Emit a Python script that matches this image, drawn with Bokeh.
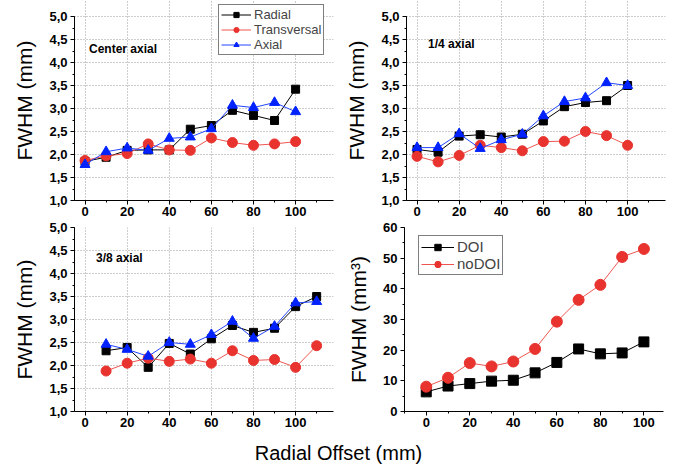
from bokeh.plotting import figure
from bokeh.layouts import column, row
from bokeh.models import Label, SingleIntervalTicker, CustomJSTickFormatter, Range1d, Legend, LegendItem
from bokeh.embed import file_html
from bokeh.resources import INLINE

FONT = "Liberation Sans"

# ---------------- data ----------------
x_a = [0, 10, 20, 30, 40, 50, 60, 70, 80, 90, 100]
x_b = [10, 20, 30, 40, 50, 60, 70, 80, 90, 100, 110]

center_radial = [1.85, 1.94, 2.09, 2.10, 2.10, 2.55, 2.63, 2.96, 2.85, 2.74, 3.42]
center_transversal = [1.87, 1.97, 2.02, 2.23, 2.10, 2.09, 2.36, 2.26, 2.20, 2.23, 2.28]
center_axial = [1.78, 2.06, 2.14, 2.09, 2.35, 2.38, 2.56, 3.07, 3.02, 3.13, 2.93]

q14_radial = [2.11, 2.05, 2.40, 2.43, 2.38, 2.44, 2.73, 3.04, 3.13, 3.17, 3.50]
q14_transversal = [1.96, 1.84, 1.98, 2.20, 2.15, 2.08, 2.28, 2.29, 2.50, 2.41, 2.20]
q14_axial = [2.15, 2.15, 2.45, 2.13, 2.32, 2.44, 2.84, 3.15, 3.23, 3.56, 3.50]

q38_radial = [2.32, 2.39, 1.96, 2.48, 2.25, 2.58, 2.87, 2.72, 2.81, 3.28, 3.50]
q38_transversal = [1.88, 2.05, 2.16, 2.09, 2.14, 2.05, 2.32, 2.11, 2.13, 1.96, 2.43]
q38_axial = [2.46, 2.35, 2.20, 2.50, 2.46, 2.67, 2.96, 2.59, 2.85, 3.36, 3.39]

vol_doi = [6.4, 8.3, 9.1, 9.9, 10.2, 12.6, 16.0, 20.4, 18.8, 19.1, 22.7]
vol_nodoi = [8.1, 11.0, 15.8, 14.7, 16.3, 20.4, 29.3, 36.4, 41.3, 50.4, 53.0]

BLACK = "#000000"
RED = "#E8332E"
RED_LINE = "#EE5550"
BLUE = "#0022FF"
BLUE_LINE = "#2244FF"


def make_panel(width, height, left, right, top, bottom, xr, yr, xint, yint, ylabel, comma, ybounds=None):
    p = figure(width=width, height=height, x_range=Range1d(*xr), y_range=Range1d(*yr),
               output_backend="svg", toolbar_location=None, title=None,
               min_border_left=left, min_border_right=right,
               min_border_top=top, min_border_bottom=bottom)
    p.outline_line_color = None
    p.background_fill_color = "white"
    p.border_fill_color = "white"
    p.xaxis.ticker = SingleIntervalTicker(interval=xint, num_minor_ticks=2)
    p.yaxis.ticker = SingleIntervalTicker(interval=yint, num_minor_ticks=2)
    if ybounds is not None:
        p.yaxis.bounds = ybounds
    if comma:
        p.yaxis.formatter = CustomJSTickFormatter(code="return tick.toFixed(1).replace('.', ',');")
    for ax in (p.xaxis, p.yaxis):
        ax.axis_line_color = "#000000"
        ax.axis_line_width = 1
        ax.major_tick_out = 4
        ax.major_tick_in = 0
        ax.minor_tick_out = 2
        ax.minor_tick_in = 0
        ax.major_tick_line_color = "#000000"
        ax.minor_tick_line_color = "#000000"
        ax.major_label_text_font = FONT
        ax.major_label_text_font_size = "13px"
        ax.major_label_text_font_style = "bold"
        ax.major_label_text_color = "#000000"
    p.xaxis.major_label_standoff = 2
    p.yaxis.major_label_standoff = 3
    p.yaxis.axis_label = ylabel
    p.yaxis.axis_label_text_font = FONT
    p.yaxis.axis_label_text_font_size = "21px"
    p.yaxis.axis_label_text_font_style = "normal"
    p.yaxis.axis_label_text_color = "#000000"
    p.yaxis.axis_label_standoff = 10
    p.xgrid.grid_line_color = "#9a9a9a"
    p.ygrid.grid_line_color = "#9a9a9a"
    p.xgrid.grid_line_dash = "1 2"
    p.ygrid.grid_line_dash = "1 2"
    p.xgrid.grid_line_width = 1
    p.ygrid.grid_line_width = 1
    return p


def three_series(p, xs, rad, tra, axi):
    r1 = p.line(xs, rad, line_color=BLACK, line_width=1)
    r2 = p.scatter(xs, rad, marker="square", size=8, fill_color=BLACK, line_color=BLACK)
    r3 = p.line(xs, tra, line_color=RED_LINE, line_width=1)
    r4 = p.scatter(xs, tra, marker="circle", size=10, fill_color=RED, line_color=RED)
    r5 = p.line(xs, axi, line_color=BLUE_LINE, line_width=1)
    r6 = p.scatter(xs, axi, marker="triangle", size=10, fill_color=BLUE, line_color=BLUE)
    return [("Radial", [r1, r2]), ("Transversal", [r3, r4]), ("Axial", [r5, r6])]


def panel_text(p, x, y, txt):
    p.add_layout(Label(x=x, y=y, text=txt, text_font=FONT, text_font_size="12px",
                       text_font_style="bold", text_color="#000000", text_baseline="middle"))


# Top row: frames reach the canvas top so the legend is not clipped; axes are bounded at 5,0
p1 = make_panel(338, 220, 74, 5, 0, 20, (-5, 118), (1.0, 5.348), 20, 0.5, "FWHM (mm)", True,
                ybounds=(1.0, 5.0))
items = three_series(p1, x_a, center_radial, center_transversal, center_axial)
panel_text(p1, 1.9, 4.30, "Center axial")
leg = Legend(items=[LegendItem(label=l, renderers=r) for l, r in items],
             location=(144, 145), label_text_font=FONT, label_text_font_size="13px",
             label_text_line_height=1.0,
             glyph_width=30, glyph_height=13, label_height=13, spacing=0, padding=2,
             label_standoff=3, border_line_color="#000000", border_line_width=1,
             background_fill_alpha=1.0, margin=0)
p1.add_layout(leg)

p2 = make_panel(339, 220, 68, 12, 0, 20, (-5, 118), (1.0, 5.348), 20, 0.5, "FWHM (mm)", True,
                ybounds=(1.0, 5.0))
three_series(p2, x_a, q14_radial, q14_transversal, q14_axial)
panel_text(p2, 5.2, 4.41, "1/4 axial")

# Bottom row
p3 = make_panel(338, 214, 74, 5, 7, 23, (-5, 118), (1.0, 5.0), 20, 0.5, "FWHM (mm)", True)
three_series(p3, x_b, q38_radial, q38_transversal, q38_axial)
panel_text(p3, 5.2, 4.33, "3/8 axial")

p4 = make_panel(339, 214, 66, 14, 7, 23, (-10, 109), (0, 60), 20, 10, "FWHM (mm\u00b3)", False)
p4.xgrid.visible = False
p4.ygrid.visible = False
d1 = p4.line(x_a, vol_doi, line_color=BLACK, line_width=1)
d2 = p4.scatter(x_a, vol_doi, marker="square", size=10, fill_color=BLACK, line_color=BLACK)
n1 = p4.line(x_a, vol_nodoi, line_color=RED_LINE, line_width=1)
n2 = p4.scatter(x_a, vol_nodoi, marker="circle", size=11, fill_color=RED, line_color=RED)
leg4 = Legend(items=[LegendItem(label="DOI", renderers=[d1, d2]),
                     LegendItem(label="noDOI", renderers=[n1, n2])],
              location=(14, 136), label_text_font=FONT, label_text_font_size="15px",
              glyph_width=33, glyph_height=16, label_height=16, spacing=0, padding=2,
              label_standoff=3, border_line_color="#000000", border_line_width=1,
              background_fill_alpha=1.0, margin=0)
p4.add_layout(leg4)

# Shared x label
p5 = figure(width=677, height=30, x_range=Range1d(0, 677), y_range=Range1d(0, 30),
            output_backend="svg", toolbar_location=None, x_axis_type=None, y_axis_type=None,
            min_border=0, title=None)
p5.outline_line_color = None
p5.xgrid.visible = False
p5.ygrid.visible = False
p5.add_layout(Label(x=338, y=12, text="Radial Offset (mm)", text_font=FONT, text_font_size="20px",
                    text_align="center", text_baseline="middle", text_color="#000000"))

layout = column(row(p1, p2), row(p3, p4), p5)

open("out.html", "w").write(file_html(layout, INLINE))
